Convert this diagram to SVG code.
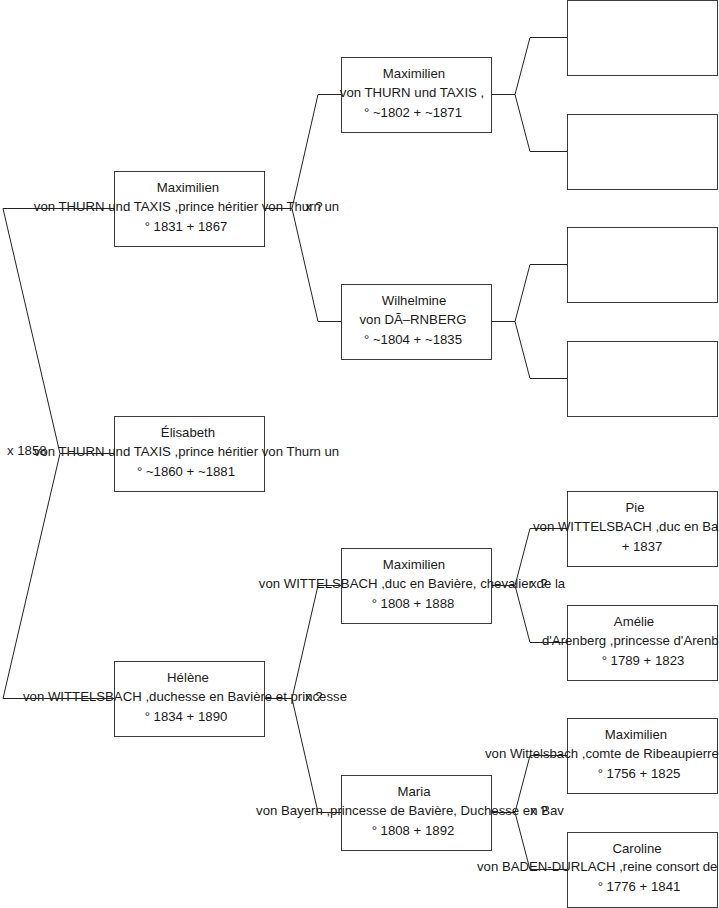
<svg xmlns="http://www.w3.org/2000/svg" width="719" height="908" viewBox="0 0 719 908">
<style>
.box{fill:#fff;stroke:#3a3a3a;stroke-width:1}
.con{fill:none;stroke:#222;stroke-width:1}
text{font-family:"Liberation Sans",Arial,sans-serif;font-size:13.2px;fill:#1a1a1a}
.m{text-anchor:middle}
</style>
<rect width="719" height="908" fill="#fff"/>
<g id="nodes">
<g id="n-maximilien-1"><rect class="box" x="114.5" y="171.5" width="150" height="75"/>
<text class="m" x="188" y="192">Maximilien</text>
<text class="m" x="186.5" y="211">von THURN und TAXIS ,prince héritier von Thurn un</text>
<text class="m" x="186" y="231">° 1831 + 1867</text></g>
<g id="n-elisabeth"><rect class="box" x="114.5" y="416.5" width="150" height="75"/>
<text class="m" x="188" y="437">Élisabeth</text>
<text class="m" x="186.5" y="456">von THURN und TAXIS ,prince héritier von Thurn un</text>
<text class="m" x="186" y="476">° ~1860 + ~1881</text></g>
<g id="n-helene"><rect class="box" x="114.5" y="661.5" width="150" height="75"/>
<text class="m" x="188" y="682">Hélène</text>
<text class="m" x="185" y="701">von WITTELSBACH ,duchesse en Bavière et princesse</text>
<text class="m" x="186" y="721">° 1834 + 1890</text></g>
<g id="n-maximilien-2"><rect class="box" x="341.5" y="57.5" width="150" height="75"/>
<text class="m" x="414" y="78">Maximilien</text>
<text class="m" x="412" y="97">von THURN und TAXIS ,</text>
<text class="m" x="413" y="117">° ~1802 + ~1871</text></g>
<g id="n-wilhelmine"><rect class="box" x="341.5" y="284.5" width="150" height="75"/>
<text class="m" x="414" y="305">Wilhelmine</text>
<text class="m" x="413" y="324">von DÃ–RNBERG</text>
<text class="m" x="413" y="344">° ~1804 + ~1835</text></g>
<g id="n-maximilien-3"><rect class="box" x="341.5" y="548.5" width="150" height="75"/>
<text class="m" x="414" y="569">Maximilien</text>
<text class="m" x="412" y="588">von WITTELSBACH ,duc en Bavière, chevalier de la</text>
<text class="m" x="413" y="608">° 1808 + 1888</text></g>
<g id="n-maria"><rect class="box" x="341.5" y="775.5" width="150" height="75"/>
<text class="m" x="414" y="796">Maria</text>
<text class="m" x="410" y="815">von Bayern ,princesse de Bavière, Duchesse en Bav</text>
<text class="m" x="413" y="835">° 1808 + 1892</text></g>
<g id="n-empty-1"><rect class="box" x="567.5" y="0.5" width="150" height="75"/></g>
<g id="n-empty-2"><rect class="box" x="567.5" y="114.5" width="150" height="75"/></g>
<g id="n-empty-3"><rect class="box" x="567.5" y="227.5" width="150" height="75"/></g>
<g id="n-empty-4"><rect class="box" x="567.5" y="341.5" width="150" height="75"/></g>
<g id="n-pie"><rect class="box" x="567.5" y="491.5" width="150" height="75"/>
<text class="m" x="635" y="512">Pie</text>
<text x="533" y="531">von WITTELSBACH ,duc en Ba</text>
<text class="m" x="642" y="551">+ 1837</text></g>
<g id="n-amelie"><rect class="box" x="567.5" y="605.5" width="150" height="75"/>
<text class="m" x="634" y="626">Amélie</text>
<text x="542" y="645">d'Arenberg ,princesse d'Arenb</text>
<text class="m" x="643" y="665">° 1789 + 1823</text></g>
<g id="n-maximilien-4"><rect class="box" x="567.5" y="718.5" width="150" height="75"/>
<text class="m" x="636" y="739">Maximilien</text>
<text x="485" y="758">von Wittelsbach ,comte de Ribeaupierre</text>
<text class="m" x="639" y="778">° 1756 + 1825</text></g>
<g id="n-caroline"><rect class="box" x="567.5" y="832.5" width="150" height="75"/>
<text class="m" x="637" y="853">Caroline</text>
<text x="477" y="871">von BADEN-DURLACH ,reine consort de</text>
<text class="m" x="639" y="891">° 1776 + 1841</text></g>
</g>
<g id="connectors">
<path class="con" d="M114,453.5 H60 L3,208.5 H114 M60,453.5 L3,698.5 H114"/>
<path class="con" d="M264,208.5 H292 L318,94.5 H341 M292,208.5 L318,321.5 H341"/>
<path class="con" d="M264,698.5 H292 L318,585.5 H341 M292,698.5 L318,812.5 H341"/>
<path class="con" d="M491,94.5 H515 L530,37.5 H567 M515,94.5 L530,151.5 H567"/>
<path class="con" d="M491,321.5 H515 L530,264.5 H567 M515,321.5 L530,378.5 H567"/>
<path class="con" d="M491,585.5 H515 L530,528.5 H567 M515,585.5 L530,642.5 H567"/>
<path class="con" d="M491,812.5 H515 L530,755.5 H567 M515,812.5 L530,869.5 H567"/>
</g>
<g id="labels">
<text x="7" y="455">x 1858</text>
<text x="305" y="211">x ?</text>
<text x="305" y="701">x ?</text>
<text x="530" y="588">x ?</text>
<text x="530" y="815">x ?</text>
</g>
</svg>
